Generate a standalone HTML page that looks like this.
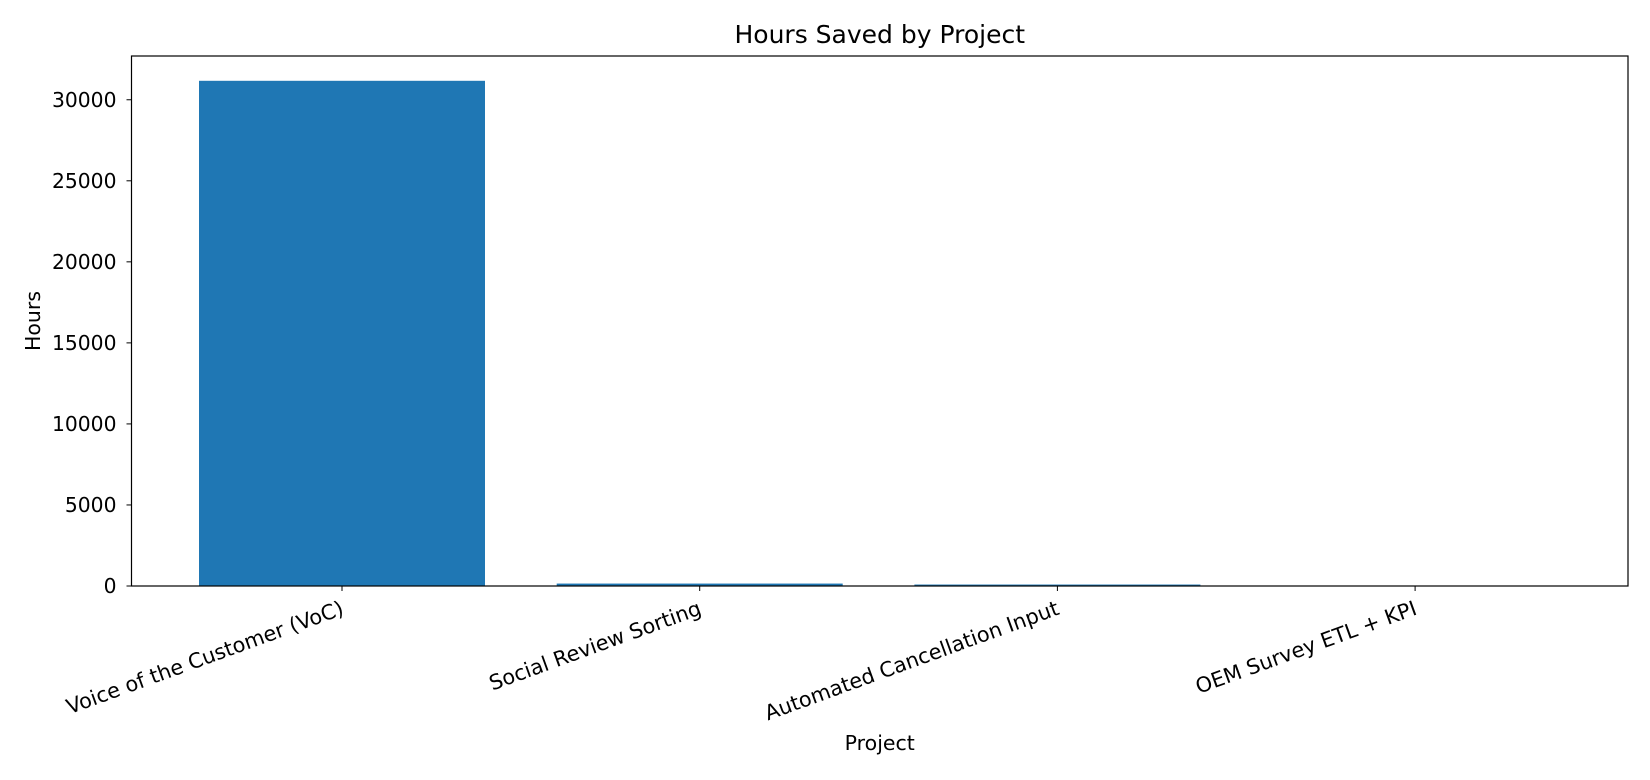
<!DOCTYPE html>
<html><head><meta charset="utf-8"><style>
body{margin:0;background:#fff}
svg{display:block;font-family:"DejaVu Sans","Liberation Sans",sans-serif}
</style></head><body>
<svg id="c" width="1650" height="780"></svg>
<script>
const categories=["Voice of the Customer (VoC)","Social Review Sorting","Automated Cancellation Input","OEM Survey ETL + KPI"];
const hours=[31170,150,90,30];
const yTicks=[0,5000,10000,15000,20000,25000,30000];
const NS="http://www.w3.org/2000/svg";
const svg=document.getElementById('c');
const L=131.5,R=1628,T=56,B=586;
const yMax=32700;
const y=v=>B-(v/yMax)*(B-T);
const xc=i=>342+i*357.7;
const bw=286;
function el(t,a,txt){const e=document.createElementNS(NS,t);for(const k in a)e.setAttribute(k,a[k]);if(txt!=null)e.textContent=txt;svg.appendChild(e);return e;}
categories.forEach((c,i)=>{
 const b=el('rect',{x:xc(i)-bw/2,y:y(hours[i]),width:bw,height:B-y(hours[i]),fill:'#1f77b4'});
 
 
 el('line',{x1:xc(i),x2:xc(i),y1:B,y2:B+5,stroke:'#000','stroke-width':1});
 const t=el('text',{x:0,y:0,'font-size':20.8,'text-anchor':'end',transform:`translate(${xc(i)+3},${B+28}) rotate(-20)`},c);
 
 
});
yTicks.forEach(v=>{
 el('line',{x1:L-5,x2:L,y1:y(v),y2:y(v),stroke:'#000','stroke-width':1});
 const t=el('text',{x:L-15,y:y(v)+7,'font-size':20.3,'text-anchor':'end'},String(v));
 
 
});
const f=el('rect',{x:L,y:T,width:R-L,height:B-T,fill:'none',stroke:'#000','stroke-width':1.2});


const ti=el('text',{x:(L+R)/2,y:43,'font-size':25,'text-anchor':'middle'},'Hours Saved by Project');


const xl=el('text',{x:(L+R)/2,y:750,'font-size':20.5,'text-anchor':'middle'},'Project');


const yl=el('text',{x:0,y:0,'font-size':20.5,'text-anchor':'middle',transform:`translate(40,${(T+B)/2}) rotate(-90)`},'Hours');


</script>
</body></html>
